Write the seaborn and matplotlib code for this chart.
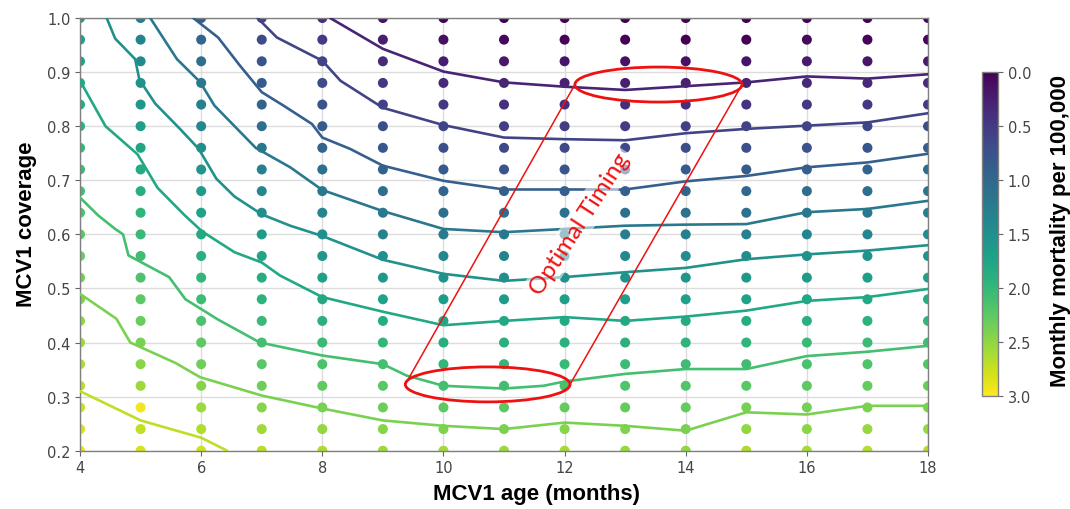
import numpy as np
import pandas as pd
import matplotlib
matplotlib.use("Agg")
import matplotlib.pyplot as plt
import seaborn as sns
from matplotlib.patches import Ellipse
from matplotlib.colors import Normalize
from matplotlib.cm import ScalarMappable
from matplotlib.ticker import FormatStrFormatter

# ---------------- data ----------------
ages = [4, 5, 6, 7, 8, 9, 10, 11, 12, 13, 14, 15, 16, 17, 18]
coverages = [0.20, 0.24, 0.28, 0.32, 0.36, 0.40, 0.44, 0.48, 0.52, 0.56, 0.60,
             0.64, 0.68, 0.72, 0.76, 0.80, 0.84, 0.88, 0.92, 0.96, 1.00]

# monthly mortality per 100,000 at each coverage (bottom -> top), one list per age
mort_04 = [2.88, 2.82, 2.75, 2.68, 2.62, 2.55, 2.48, 2.42, 2.35, 2.28, 2.22, 2.15, 2.08, 2.03, 1.97, 1.92, 1.86, 1.81, 1.75, 1.69, 1.64]
mort_05 = [2.82, 2.72, 2.95, 2.56, 2.47, 2.38, 2.31, 2.23, 2.16, 2.08, 2.02, 1.96, 1.89, 1.83, 1.76, 1.67, 1.59, 1.51, 1.42, 1.34, 1.26]
mort_06 = [2.77, 2.66, 2.55, 2.44, 2.34, 2.25, 2.15, 2.06, 1.98, 1.90, 1.82, 1.73, 1.65, 1.56, 1.48, 1.38, 1.29, 1.20, 1.09, 0.98, 0.87]
mort_07 = [2.68, 2.57, 2.46, 2.34, 2.22, 2.10, 2.02, 1.94, 1.86, 1.76, 1.63, 1.49, 1.39, 1.29, 1.18, 1.07, 0.96, 0.86, 0.77, 0.67, 0.58]
mort_08 = [2.63, 2.51, 2.39, 2.27, 2.15, 2.03, 1.92, 1.81, 1.70, 1.60, 1.49, 1.35, 1.21, 1.08, 0.96, 0.86, 0.77, 0.69, 0.60, 0.52, 0.40]
mort_09 = [2.56, 2.45, 2.33, 2.22, 2.10, 1.98, 1.85, 1.73, 1.60, 1.48, 1.34, 1.21, 1.07, 0.93, 0.81, 0.70, 0.58, 0.47, 0.36, 0.25, 0.14]
mort_10 = [2.58, 2.42, 2.26, 2.10, 1.99, 1.89, 1.78, 1.65, 1.52, 1.38, 1.24, 1.10, 0.96, 0.84, 0.72, 0.61, 0.49, 0.36, 0.24, 0.12, 0.02]
mort_11 = [2.55, 2.40, 2.24, 2.09, 1.99, 1.90, 1.80, 1.64, 1.48, 1.35, 1.21, 1.06, 0.91, 0.78, 0.66, 0.54, 0.42, 0.30, 0.19, 0.07, 0.00]
mort_12 = [2.60, 2.45, 2.29, 2.13, 2.02, 1.92, 1.82, 1.67, 1.50, 1.37, 1.23, 1.08, 0.91, 0.78, 0.65, 0.53, 0.40, 0.28, 0.16, 0.03, 0.00]
mort_13 = [2.54, 2.42, 2.29, 2.17, 2.05, 1.92, 1.80, 1.67, 1.53, 1.40, 1.26, 1.09, 0.91, 0.78, 0.65, 0.52, 0.39, 0.26, 0.13, 0.02, 0.00]
mort_14 = [2.50, 2.39, 2.29, 2.18, 2.07, 1.95, 1.83, 1.69, 1.56, 1.42, 1.27, 1.12, 0.97, 0.83, 0.69, 0.56, 0.42, 0.28, 0.14, 0.01, 0.00]
mort_15 = [2.63, 2.50, 2.37, 2.22, 2.08, 1.96, 1.85, 1.73, 1.61, 1.47, 1.29, 1.13, 0.99, 0.86, 0.72, 0.58, 0.44, 0.30, 0.16, 0.02, 0.00]
mort_16 = [2.59, 2.48, 2.36, 2.25, 2.14, 2.03, 1.91, 1.79, 1.65, 1.51, 1.36, 1.20, 1.06, 0.91, 0.76, 0.60, 0.47, 0.34, 0.21, 0.08, 0.00]
mort_17 = [2.65, 2.53, 2.41, 2.29, 2.17, 2.05, 1.93, 1.81, 1.67, 1.54, 1.38, 1.23, 1.09, 0.95, 0.79, 0.63, 0.48, 0.33, 0.18, 0.03, 0.00]
mort_18 = [2.65, 2.53, 2.41, 2.30, 2.19, 2.08, 1.97, 1.85, 1.72, 1.57, 1.43, 1.28, 1.14, 1.00, 0.86, 0.70, 0.53, 0.37, 0.20, 0.03, 0.00]

# iso-mortality contour lines (age, coverage) per level
levels = [0.3, 0.6, 0.9, 1.2, 1.5, 1.8, 2.1, 2.4, 2.7]
iso03_age = [8.13, 9, 10, 11, 12, 13, 14, 15, 16, 17, 18]
iso03_cov = [1.0, 0.943, 0.901, 0.881, 0.873, 0.867, 0.874, 0.881, 0.892, 0.888, 0.896]
iso06_age = [6.93, 7.25, 8.0, 8.3, 9, 10, 11, 12, 13, 14, 15, 16, 17, 18]
iso06_cov = [1.0, 0.964, 0.921, 0.884, 0.834, 0.802, 0.779, 0.776, 0.774, 0.787, 0.795, 0.801, 0.807, 0.824]
iso09_age = [5.87, 6.28, 6.64, 7.0, 7.36, 7.83, 8.0, 8.46, 9, 10, 11, 12, 13, 14, 15, 16, 17, 18]
iso09_cov = [1.0, 0.964, 0.912, 0.863, 0.838, 0.804, 0.779, 0.758, 0.727, 0.699, 0.683, 0.683, 0.683, 0.698, 0.708, 0.724, 0.733, 0.749]
iso12_age = [5.16, 5.6, 5.98, 6.22, 6.9, 7.47, 8.0, 9, 10, 11, 12, 13, 14, 15, 16, 17, 18]
iso12_cov = [1.0, 0.924, 0.882, 0.838, 0.76, 0.724, 0.682, 0.643, 0.61, 0.604, 0.61, 0.616, 0.618, 0.619, 0.641, 0.647, 0.662]
iso15_age = [4.44, 4.58, 4.91, 4.98, 5.24, 5.65, 5.96, 6.25, 6.55, 7.0, 7.47, 8.0, 9, 10, 11, 12, 13, 14, 15, 16, 17, 18]
iso15_cov = [1.0, 0.962, 0.924, 0.886, 0.842, 0.795, 0.758, 0.703, 0.67, 0.637, 0.616, 0.597, 0.553, 0.527, 0.514, 0.521, 0.53, 0.538, 0.554, 0.563, 0.57, 0.58]
iso18_age = [4.0, 4.42, 4.95, 5.28, 5.73, 6.02, 6.55, 7.0, 7.3, 8.0, 9, 10, 11, 12, 13, 14, 15, 16, 17, 18]
iso18_cov = [0.884, 0.80, 0.748, 0.686, 0.635, 0.605, 0.567, 0.548, 0.524, 0.484, 0.457, 0.432, 0.44, 0.447, 0.44, 0.448, 0.459, 0.477, 0.484, 0.499]
iso21_age = [4.0, 4.3, 4.58, 4.71, 4.8, 5.47, 5.74, 6.27, 6.97, 8.0, 9, 9.39, 10, 11, 11.65, 12, 13, 14, 15, 16, 17, 18]
iso21_cov = [0.668, 0.635, 0.61, 0.60, 0.561, 0.521, 0.48, 0.443, 0.40, 0.376, 0.36, 0.339, 0.32, 0.315, 0.32, 0.328, 0.342, 0.351, 0.351, 0.375, 0.383, 0.394]
iso24_age = [4, 4.6, 4.83, 5.58, 5.98, 7.0, 8.0, 9, 10, 11, 12, 13, 14, 15, 16, 17, 18]
iso24_cov = [0.49, 0.444, 0.40, 0.362, 0.336, 0.302, 0.278, 0.256, 0.246, 0.24, 0.252, 0.246, 0.237, 0.271, 0.267, 0.283, 0.283]
iso27_age = [4, 5, 6, 6.43]
iso27_cov = [0.31, 0.256, 0.224, 0.2]

# annotation: ellipses marking the optimal window
ellipse_age = [10.73, 13.55]
ellipse_cov = [0.3226, 0.877]
ellipse_w = [2.72, 2.76]
ellipse_h = 0.0647
note_text = "Optimal Timing"

x_ticks = [4, 6, 8, 10, 12, 14, 16, 18]
y_ticks = [0.2, 0.3, 0.4, 0.5, 0.6, 0.7, 0.8, 0.9, 1.0]
cbar_ticks = [0.0, 0.5, 1.0, 1.5, 2.0, 2.5, 3.0]

# ---------------- build tables ----------------
mort_cols = [mort_04, mort_05, mort_06, mort_07, mort_08, mort_09, mort_10, mort_11,
             mort_12, mort_13, mort_14, mort_15, mort_16, mort_17, mort_18]
pts = pd.DataFrame(
    [(a, c, m) for a, col in zip(ages, mort_cols) for c, m in zip(coverages, col)],
    columns=["age", "coverage", "mortality"],
)
iso_ages = [iso03_age, iso06_age, iso09_age, iso12_age, iso15_age, iso18_age, iso21_age, iso24_age, iso27_age]
iso_covs = [iso03_cov, iso06_cov, iso09_cov, iso12_cov, iso15_cov, iso18_cov, iso21_cov, iso24_cov, iso27_cov]
lines = pd.DataFrame(
    [(lv, a, c) for lv, aa, cc in zip(levels, iso_ages, iso_covs) for a, c in zip(aa, cc)],
    columns=["level", "age", "coverage"],
)

# ---------------- plot ----------------
sns.set_style("white")
plt.rcParams["font.family"] = ["DejaVu Sans"]

fig = plt.figure(figsize=(10.7, 5.1), dpi=100)
ax = fig.add_axes([0.0748, 0.1143, 0.7925, 0.8484])
cax = fig.add_axes([0.9178, 0.2216, 0.0150, 0.6353])

norm = (0, 3)
sns.scatterplot(data=pts, x="age", y="coverage", hue="mortality", palette="viridis",
                hue_norm=norm, s=52, linewidth=0, legend=False, ax=ax, zorder=2)
sns.lineplot(data=lines, x="age", y="coverage", hue="level", units="level",
             estimator=None, sort=False, palette="viridis", hue_norm=norm,
             lw=1.9, legend=False, ax=ax, zorder=3)

ax.set_xlim(4, 18)
ax.set_ylim(0.2, 1.0)
ax.set_xticks(x_ticks)
ax.set_yticks(y_ticks)
ax.yaxis.set_major_formatter(FormatStrFormatter("%.1f"))
ax.grid(True, color="#dcdcdc", lw=1.0)
ax.set_axisbelow(True)
ax.set_xlabel("")
ax.set_ylabel("")
ax.tick_params(direction="out", length=3.5, width=0.8, color="#666666",
               labelcolor="#444444", labelsize=10.5, left=True, bottom=True)
for sp in ax.spines.values():
    sp.set_visible(True)
    sp.set_color("#808080")
    sp.set_linewidth(1.0)

# annotation
red = "#ee1111"
for a, c, w in zip(ellipse_age, ellipse_cov, ellipse_w):
    ax.add_patch(Ellipse((a, c), w, ellipse_h, fill=False, ec=red, lw=2.0, zorder=6))
ax.plot([ellipse_age[0] - ellipse_w[0] / 2, ellipse_age[1] - ellipse_w[1] / 2],
        [ellipse_cov[0], ellipse_cov[1]], color=red, lw=1.1, zorder=6)
ax.plot([ellipse_age[0] + ellipse_w[0] / 2, ellipse_age[1] + ellipse_w[1] / 2],
        [ellipse_cov[0], ellipse_cov[1]], color=red, lw=1.1, zorder=6)
ax.text(12.25, 0.62, note_text, rotation=57, rotation_mode="anchor",
        ha="center", va="center", color=red, fontsize=17.5, family=["Lato", "DejaVu Sans"],
        bbox=dict(boxstyle="square,pad=0.15", fc="white", ec="none", alpha=0.55), zorder=5)

# colorbar
cb = fig.colorbar(ScalarMappable(norm=Normalize(*norm), cmap="viridis"), cax=cax)
cb.set_ticks(cbar_ticks)
cax.yaxis.set_major_formatter(FormatStrFormatter("%.1f"))
cax.invert_yaxis()
cb.outline.set_edgecolor("#808080")
cb.outline.set_linewidth(1.0)
cax.tick_params(labelsize=10.5, labelcolor="#444444", color="#666666", length=3.5, width=0.8)

# labels
lab_font = ["Liberation Sans", "DejaVu Sans"]
fig.text(0.501, 0.031, "MCV1 age (months)", ha="center", va="center",
         fontsize=16, fontweight="bold", family=lab_font, color="black")
fig.text(0.025, 0.56, "MCV1 coverage", ha="center", va="center", rotation=90,
         fontsize=16, fontweight="bold", family=lab_font, color="black")
fig.text(0.991, 0.547, "Monthly mortality per 100,000", ha="center", va="center",
         rotation=90, fontsize=16, fontweight="bold", family=lab_font, color="black")

fig.savefig("out.png", dpi=100)
